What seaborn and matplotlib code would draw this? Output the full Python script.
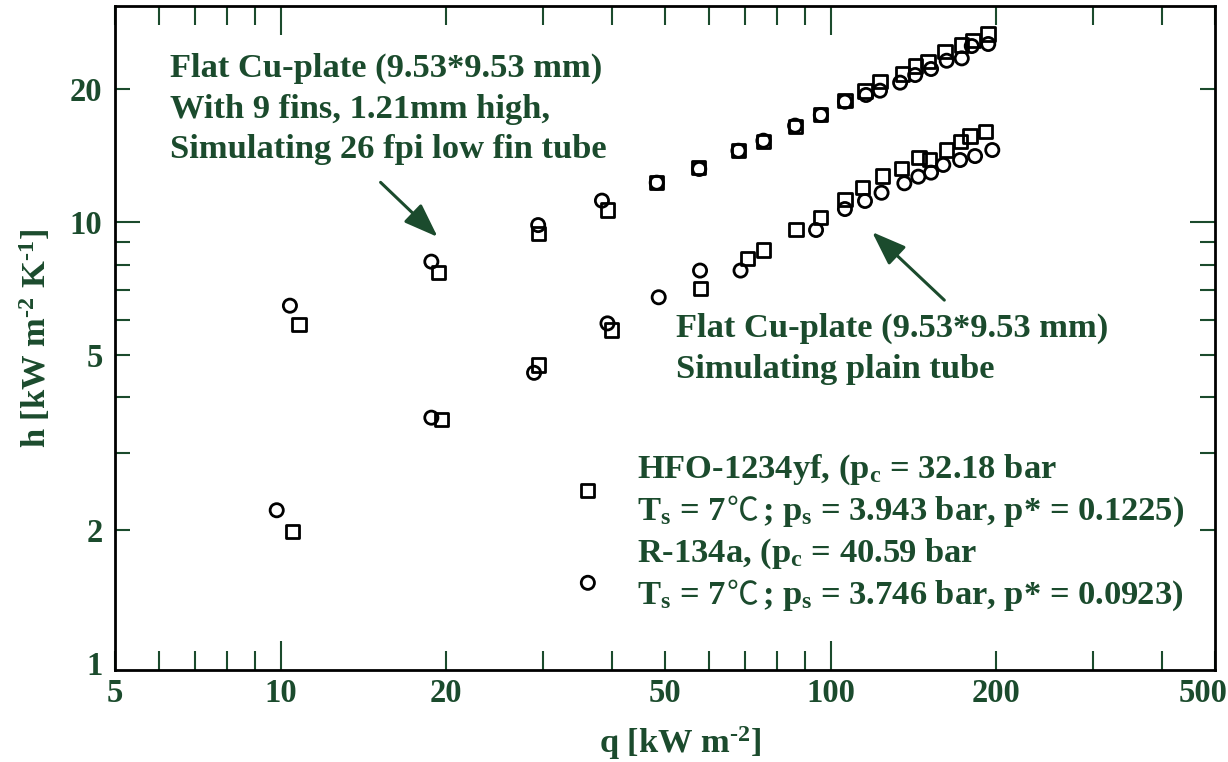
import numpy as np
import pandas as pd
import matplotlib
matplotlib.use("Agg")
import matplotlib.pyplot as plt
from matplotlib.ticker import FixedLocator, FuncFormatter
from matplotlib.transforms import ScaledTranslation
import seaborn as sns

# ---- measured boiling heat transfer coefficients, h [kW m-2 K-1] vs heat flux q [kW m-2] ----
# finned Cu plate (9 fins, 1.21 mm high; simulates a 26 fpi low-fin tube)
fin_q_hfo = [10.4, 18.8, 29.4, 38.4, 48.3, 57.7, 68.0, 75.5, 86.2, 96.0,
             106.2, 116.0, 123.0, 133.8, 142.5, 152.3, 162.6, 173.2, 180.6, 193.5]
fin_h_hfo = [6.46, 8.13, 9.84, 11.18, 12.28, 13.19, 14.51, 15.29, 16.54, 17.48,
             18.74, 19.41, 19.85, 20.70, 21.54, 22.23, 23.21, 23.50, 25.06, 25.33]
fin_q_r134a = [10.8, 19.4, 29.4, 39.3, 48.3, 57.5, 68.0, 75.5, 86.2, 96.0,
               106.2, 115.5, 123.0, 135.3, 142.5, 150.4, 161.5, 173.2, 181.6, 193.3]
fin_h_r134a = [5.86, 7.67, 9.43, 10.65, 12.3, 13.31, 14.5, 15.2, 16.5, 17.5,
               18.84, 19.82, 20.80, 21.65, 22.59, 23.09, 24.33, 25.20, 25.77, 26.69]

# flat Cu plate (simulates a plain tube)
plain_q_hfo = [9.84, 18.8, 28.9, 36.2, 39.3, 48.7, 57.9, 68.6, 94.1, 106.2,
               115.5, 123.8, 136.2, 144.4, 152.3, 160.3, 172.0, 183.1, 196.8]
plain_h_hfo = [2.22, 3.60, 4.55, 1.52, 5.89, 6.75, 7.76, 7.76, 9.59, 10.70,
               11.16, 11.65, 12.24, 12.67, 12.94, 13.47, 13.82, 14.11, 14.56]
plain_q_r134a = [10.5, 19.6, 29.4, 36.2, 40.0, 58.1, 70.6, 75.5, 86.5, 96.0,
                 106.2, 114.4, 124.2, 134.7, 144.8, 151.2, 162.6, 172.0, 179.3, 191.4]
plain_h_r134a = [1.985, 3.57, 4.74, 2.46, 5.69, 7.07, 8.27, 8.64, 9.63, 10.23,
                 11.26, 11.99, 12.72, 13.24, 14.02, 13.88, 14.56, 15.21, 15.67, 16.02]

# axis ticks and their labels
x_major = [10, 100]
x_minor = [5, 6, 7, 8, 9, 20, 30, 40, 50, 60, 70, 80, 90, 200, 300, 400, 500]
x_labeled = [5, 10, 20, 50, 100, 200, 500]
y_major = [10]
y_minor = [1, 2, 3, 4, 5, 6, 7, 8, 9, 20]
y_labeled = [1, 2, 5, 10, 20]

GREEN = "#1b4b2d"
W, H = 1228, 762
FS = 24.8

sns.set_style("white")
plt.rcParams.update({
    "font.family": ["Liberation Serif", "DejaVu Serif"],
    "font.weight": "bold",
    "mathtext.fontset": "custom",
    "mathtext.rm": "Liberation Serif:bold",
    "mathtext.it": "Liberation Serif:bold",
    "mathtext.bf": "Liberation Serif:bold",
    "mathtext.default": "rm",
})

frames = []
for surf, ref, q, h in [
    ("finned", "HFO-1234yf", fin_q_hfo, fin_h_hfo),
    ("finned", "R-134a", fin_q_r134a, fin_h_r134a),
    ("plain", "HFO-1234yf", plain_q_hfo, plain_h_hfo),
    ("plain", "R-134a", plain_q_r134a, plain_h_r134a),
]:
    frames.append(pd.DataFrame({"q": q, "h": h, "surface": surf, "refrigerant": ref}))
df = pd.concat(frames, ignore_index=True)

fig = plt.figure(figsize=(W / 100, H / 100), dpi=100)
ax = fig.add_axes([115 / W, 1 - 670 / H, 1100 / W, 664 / H])

sns.scatterplot(data=df, x="q", y="h", style="refrigerant",
                markers={"HFO-1234yf": "o", "R-134a": "s"},
                s=90, facecolor="none", edgecolor="black", linewidth=2.0,
                legend=False, ax=ax, zorder=3)

ax.set_xscale("log")
ax.set_yscale("log")
ax.set_xlim(5, 500)
ax.set_ylim(10 ** (-7 / 441), 10 ** (657 / 441))

ax.xaxis.set_major_locator(FixedLocator(x_major))
ax.xaxis.set_minor_locator(FixedLocator(x_minor))
ax.yaxis.set_major_locator(FixedLocator(y_major))
ax.yaxis.set_minor_locator(FixedLocator(y_minor))


def make_fmt(keep):
    return FuncFormatter(lambda v, pos: f"{v:g}" if any(abs(v - k) < 1e-9 for k in keep) else "")


for axis, keep in [(ax.xaxis, x_labeled), (ax.yaxis, y_labeled)]:
    axis.set_major_formatter(make_fmt(keep))
    axis.set_minor_formatter(make_fmt(keep))

common = dict(direction="in", width=1.5, color=GREEN, labelcolor=GREEN, labelsize=23.5)
ax.tick_params(axis="x", which="major", length=21, pad=6, top=True, bottom=True, **common)
ax.tick_params(axis="x", which="minor", length=14, pad=6, top=True, bottom=True, **common)
ax.tick_params(axis="y", which="major", length=18, pad=9, left=True, right=True, **common)
ax.tick_params(axis="y", which="minor", length=11, pad=9, left=True, right=True, **common)

# the "1" label sits at the lower corner without a tick mark
t1 = ax.yaxis.get_minor_ticks()[0]
t1.tick1line.set_visible(False)
t1.tick2line.set_visible(False)

# keep the "500" label inside the figure
last = ax.xaxis.get_minor_ticks()[len(x_minor) - 1].label1
last.set_horizontalalignment("right")
last.set_transform(last.get_transform() + ScaledTranslation(12 / 100, 0, fig.dpi_scale_trans))

for sp in ax.spines.values():
    sp.set_color("black")
    sp.set_linewidth(2.0)
    sp.set_visible(True)

ax.set_xlabel(r"q [kW m$^{\text{-2}}$]", fontsize=FS, color=GREEN, fontweight="bold")
ax.set_ylabel(r"h [kW m$^{\text{-2}}$ K$^{\text{-1}}$]", fontsize=FS, color=GREEN, fontweight="bold")
ax.xaxis.set_label_coords((680 - 115) / 1100, (670 - 724) / 664)
ax.yaxis.set_label_coords((53 - 115) / 1100, 0.5)

renderer = fig.canvas.get_renderer()


def put(x, y, s, **kw):
    opts = dict(fontsize=FS, color=GREEN, fontweight="bold", ha="left", va="baseline")
    opts.update(kw)
    return fig.text(x / W, 1 - y / H, s, **opts)


def put_run(x, y, pieces):
    """Write text pieces one after another on a shared baseline."""
    for s, kw, gap in pieces:
        t = put(x, y, s, **kw)
        x += t.get_window_extent(renderer=renderer).width + gap


for y, s in zip([77, 118, 158], ["Flat Cu-plate (9.53*9.53 mm)",
                                 "With 9 fins, 1.21mm high,",
                                 "Simulating 26 fpi low fin tube"]):
    put(170, y, s)

for y, s in zip([337, 378], ["Flat Cu-plate (9.53*9.53 mm)",
                             "Simulating plain tube"]):
    put(676, y, s)

celsius = dict(family=["Noto Sans CJK SC", "DejaVu Sans"], fontweight="normal", fontsize=FS * 0.92)
put(637, 478, r"HFO-1234yf, (p$_{c}$ = 32.18 bar")
put_run(637, 520, [(r"T$_{s}$ = 7", {}, 1), ("℃", celsius, 3),
                   (r"; p$_{s}$ = 3.943 bar, p* = 0.1225)", {}, 0)])
put(637, 562, r"R-134a, (p$_{c}$ = 40.59 bar")
put_run(637, 604, [(r"T$_{s}$ = 7", {}, 1), ("℃", celsius, 3),
                   (r"; p$_{s}$ = 3.746 bar, p* = 0.0923)", {}, 0)])

arrow = dict(arrowstyle="-|>,head_length=0.6,head_width=0.22", mutation_scale=35,
             lw=2.2, color=GREEN, shrinkA=0, shrinkB=0)
ax.annotate("", xy=(19.3, 9.25), xytext=(15.2, 12.3), arrowprops=arrow)
ax.annotate("", xy=(119, 9.49), xytext=(161, 6.65), arrowprops=arrow)

fig.savefig("out.png", dpi=100)
